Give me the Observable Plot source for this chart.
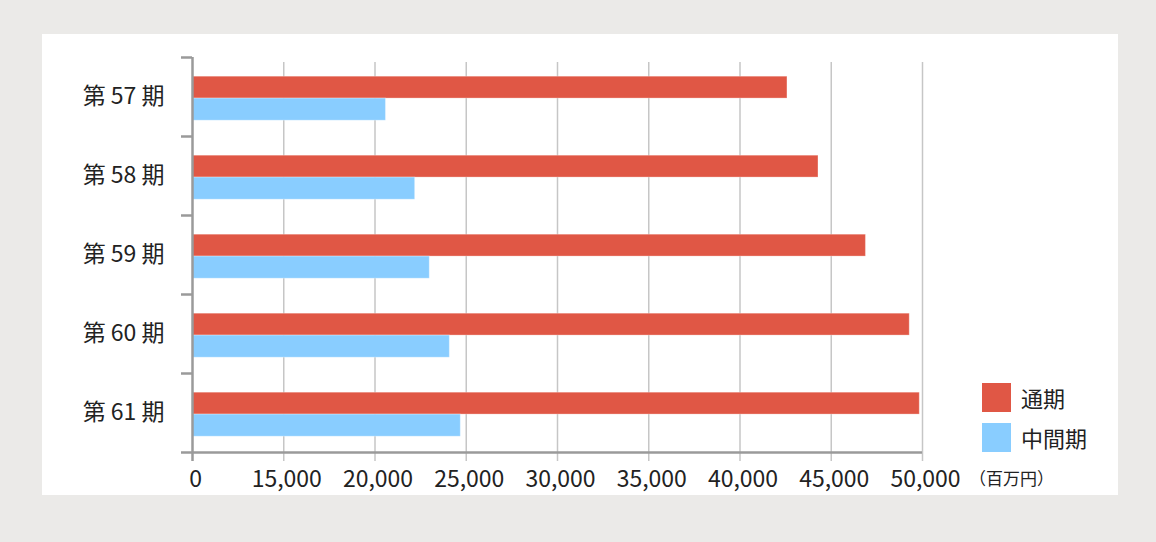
<!DOCTYPE html>
<html>
<head>
<meta charset="utf-8">
<script src="https://cdn.jsdelivr.net/npm/d3@7"></script>
<script src="https://cdn.jsdelivr.net/npm/@observablehq/plot@0.6"></script>
<style>
  html, body { margin: 0; padding: 0; background: #ebeae8; }
  body { width: 1156px; height: 542px; position: relative; overflow: hidden; font-family: "Noto Sans CJK JP", "Noto Sans", sans-serif; }
  #panel { position: absolute; left: 42px; top: 34px; width: 1076px; height: 461px; background: #fff; }
  #chart { position: absolute; left: 0; top: 0; }
  .legend { position: absolute; left: 940px; font-size: 22px; color: #222; }
  .legend .item { position: absolute; left: 0; height: 29px; white-space: nowrap; }
  .legend .sw { position: absolute; left: 0; top: 0; width: 29px; height: 29px; }
  .legend .lab { position: absolute; left: 39px; top: 0; line-height: 29px; }
  #unit { position: absolute; left: 927px; top: 434px; font-size: 17px; line-height: 1.2; color: #222; white-space: nowrap; }
</style>
</head>
<body>
<div id="panel">
  <div id="chart"></div>
  <div class="legend" id="legend"></div>
  <div id="unit">（百万円）</div>
</div>
<script>
// ---- data ----
const periods = ["第 57 期", "第 58 期", "第 59 期", "第 60 期", "第 61 期"];
const seriesNames = ["通期", "中間期"];
const seriesColors = ["#e05745", "#89cdff"];
const fullYear = [42600, 44300, 46900, 49300, 49850];   // 通期
const interim = [20600, 22200, 23000, 24100, 24700];    // 中間期
const xTicks = [10000, 15000, 20000, 25000, 30000, 35000, 40000, 45000, 50000];
const xTickLabels = ["0", "15,000", "20,000", "25,000", "30,000", "35,000", "40,000", "45,000", "50,000"];
const unitLabel = "（百万円）";

// ---- table ----
const rows = periods.flatMap((p, i) => [
  {i, period: p, series: seriesNames[0], value: fullYear[i]},
  {i, period: p, series: seriesNames[1], value: interim[i]}
]);
const slot = {"通期": [0.243, 0.52], "中間期": [0.52, 0.80]};

const chart = Plot.plot({
  width: 1076,
  height: 461,
  marginLeft: 150,
  marginRight: 196,
  marginTop: 28,
  marginBottom: 34,
  style: {fontFamily: "'Noto Sans CJK JP', 'Noto Sans', sans-serif", fontSize: "23px", color: "#222", background: "transparent", overflow: "visible"},
  x: {domain: [10000, 50000], clamp: true, axis: null},
  y: {domain: [0, periods.length], range: [23, 418], axis: null},
  color: {domain: seriesNames, range: seriesColors},
  marks: [
    Plot.ruleX(xTicks.slice(1), {stroke: "#c6c6c6", strokeWidth: 1.5}),
    Plot.rect(rows, {
      x1: 0,
      x2: "value",
      y1: d => d.i + slot[d.series][0],
      y2: d => d.i + slot[d.series][1],
      fill: "series",
      stroke: "#fff",
      strokeOpacity: 0.3,
      strokeWidth: 1
    }),
    Plot.ruleX([xTicks[0]], {stroke: "#9a9a9a", strokeWidth: 2.5, insetTop: -5}),
    Plot.ruleY([periods.length], {stroke: "#9a9a9a", strokeWidth: 2.5, insetLeft: -11}),
    Plot.axisY(d3.range(periods.length), {anchor: "left", tickSize: 11, tickFormat: () => "", stroke: "#9a9a9a", strokeWidth: 2.5, label: null}),
    Plot.text(periods, {y: (d, i) => i + 0.5, frameAnchor: "left", textAnchor: "end", dx: -28, fontSize: 23, fill: "#222"}),
    Plot.axisX(xTicks, {anchor: "bottom", tickSize: 0, tickPadding: 9, dx: 3, fontSize: 23, fill: "#222", label: null,
      tickFormat: d => xTickLabels[xTicks.indexOf(d)]})
  ]
});
document.getElementById("chart").appendChild(chart);

// ---- legend ----
const legend = document.getElementById("legend");
seriesNames.forEach((name, k) => {
  const item = document.createElement("div");
  item.className = "item";
  item.style.top = (349 + k * 40) + "px";
  item.innerHTML = `<div class="sw" style="background:${seriesColors[k]}"></div><div class="lab">${name}</div>`;
  legend.appendChild(item);
});
document.getElementById("unit").textContent = unitLabel;
</script>
</body>
</html>
